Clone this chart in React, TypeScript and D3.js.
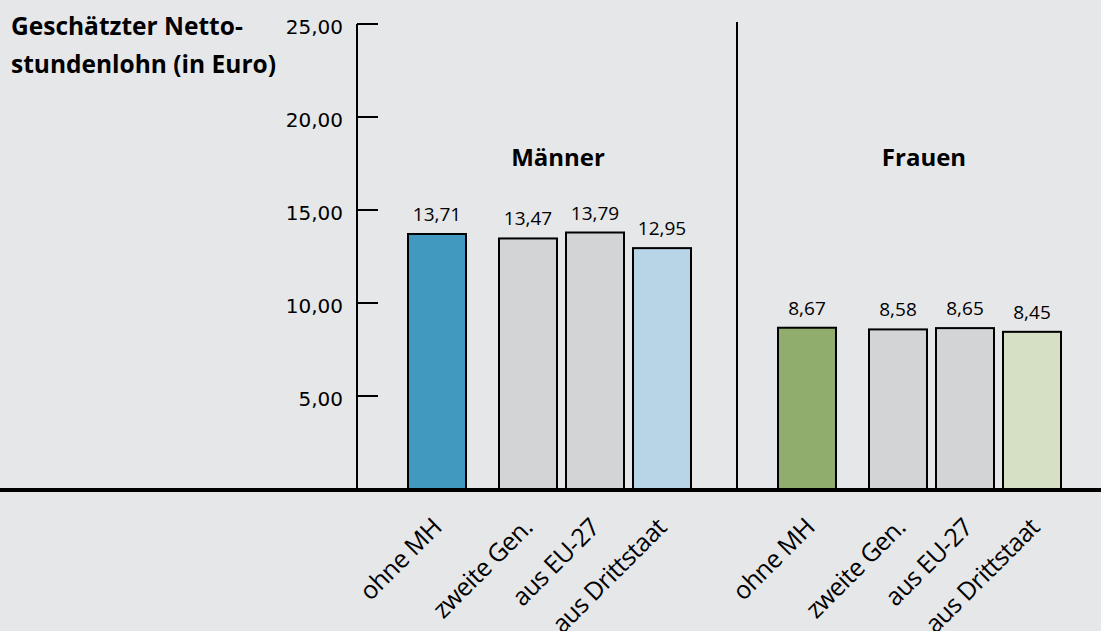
import React from "react";
import * as d3 from "d3";

const groups = ["Männer", "Frauen"];
const categories = ["ohne MH", "zweite Gen.", "aus EU-27", "aus Drittstaat"];
const valuesMaenner = [13.71, 13.47, 13.79, 12.95];
const valuesFrauen = [8.67, 8.58, 8.65, 8.45];
const yTicks = [5, 10, 15, 20, 25];
const colorsMaenner = ["#4199c0", "#d3d4d6", "#d3d4d6", "#b8d4e7"];
const colorsFrauen = ["#91ad6d", "#d3d4d6", "#d3d4d6", "#d5e0c5"];
const titleLines = ["Geschätzter Netto-", "stundenlohn (in Euro)"];

const W = 1101;
const H = 631;
const FONT = "'Open Sans', 'Noto Sans', sans-serif";

export default function App() {
  const y = d3.scaleLinear().domain([0, 25]).range([489, 24]);
  const gx = d3.scaleBand().domain(groups).range([408, 408 + 2 * 370]);
  const barW = 58;
  const migrant = d3
    .scaleBand()
    .domain(categories.slice(1))
    .range([91, 91 + 3 * 67 - 9])
    .paddingInner(9 / 67)
    .paddingOuter(0);
  const innerX = (c: string) => (c === categories[0] ? 0 : (migrant(c) as number));
  const fmt = (v: number) => d3.format(".2f")(v).replace(".", ",");

  const data = groups.flatMap((g, gi) =>
    categories.map((c, i) => ({
      g,
      c,
      v: gi === 0 ? valuesMaenner[i] : valuesFrauen[i],
      color: gi === 0 ? colorsMaenner[i] : colorsFrauen[i],
      x: (gx(g) as number) + innerX(c),
    }))
  );

  const axisX = 357;
  const dividerX = 737;

  return (
    <svg
      width={W}
      height={H}
      style={{ position: "absolute", left: 0, top: 0 }}
      fontFamily={FONT}
    >
      <rect width={W} height={H} fill="#e6e7e9" />
      {titleLines.map((t, i) => (
        <text key={t} x={11} y={35 + i * 38} fontSize={24.5} fontWeight={700} fill="#000">
          {t}
        </text>
      ))}
      {/* y axis */}
      <line x1={axisX} x2={axisX} y1={y(25)} y2={y(0)} stroke="#000" strokeWidth={2} />
      {yTicks.map((t) => (
        <g key={t}>
          <line x1={axisX} x2={axisX + 21} y1={y(t)} y2={y(t)} stroke="#000" strokeWidth={2} />
          <text
            x={343}
            y={y(t) + 10}
            textAnchor="end"
            fontSize={20}
            fontFamily="'DejaVu Sans', sans-serif"
            fill="#000"
          >
            {fmt(t)}
          </text>
        </g>
      ))}
      {/* divider */}
      <line x1={dividerX} x2={dividerX} y1={22} y2={y(0)} stroke="#000" strokeWidth={2} />
      {/* group titles */}
      {groups.map((g, gi) => (
        <text
          key={g}
          x={gi === 0 ? 558 : 924}
          y={166}
          textAnchor="middle"
          fontSize={24}
          fontWeight={700}
          fill="#000"
        >
          {g}
        </text>
      ))}
      {/* bars */}
      {data.map((d, i) => (
        <g key={d.g + d.c}>
          <rect
            x={d.x}
            y={y(d.v)}
            width={barW}
            height={y(0) - y(d.v)}
            fill={d.color}
            stroke="#000"
            strokeWidth={2}
          />
          <text
            x={d.x + barW / 2}
            y={y(d.v) - 13}
            textAnchor="middle"
            fontSize={19}
            fill="#000"
          >
            {fmt(d.v)}
          </text>
          <text
            transform={`translate(${d.x + barW / 2 + (i < 4 ? 6 : 9)},${529}) rotate(-45)`}
            textAnchor="end"
            fontSize={25}
            letterSpacing={-0.6}
            fill="#000"
          >
            {d.c}
          </text>
        </g>
      ))}
      {/* baseline */}
      <line x1={0} x2={W} y1={y(0) + 1} y2={y(0) + 1} stroke="#000" strokeWidth={4} />
    </svg>
  );
}
